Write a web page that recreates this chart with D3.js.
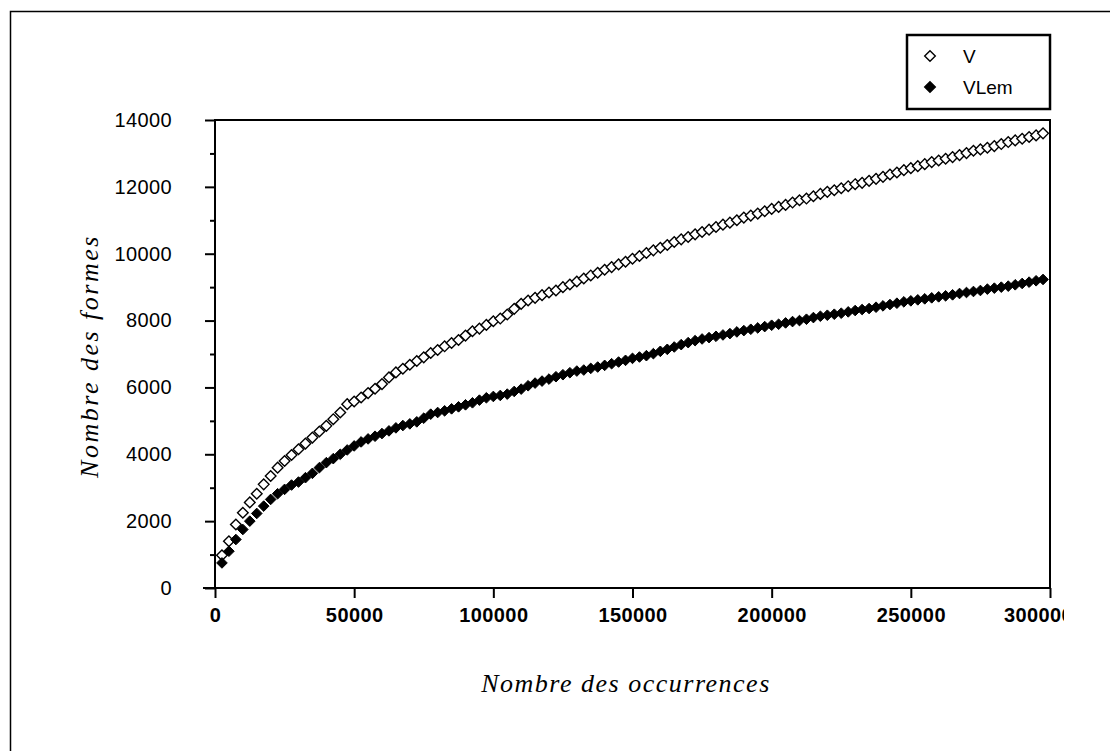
<!DOCTYPE html>
<html>
<head>
<meta charset="utf-8">
<script src="https://cdn.jsdelivr.net/npm/d3@7"></script>
<style>
  body { margin: 0; background: #fff; }
  .tick text { font-family: "Liberation Sans", sans-serif; }
</style>
</head>
<body>
<script>
var occurrences = [2500, 5000, 7500, 10000, 12500, 15000, 17500, 20000, 22500, 25000,
    27500, 30000, 32500, 35000, 37500, 40000, 42500, 45000, 47500, 50000,
    52500, 55000, 57500, 60000, 62500, 65000, 67500, 70000, 72500, 75000,
    77500, 80000, 82500, 85000, 87500, 90000, 92500, 95000, 97500, 100000,
    102500, 105000, 107500, 110000, 112500, 115000, 117500, 120000, 122500, 125000,
    127500, 130000, 132500, 135000, 137500, 140000, 142500, 145000, 147500, 150000,
    152500, 155000, 157500, 160000, 162500, 165000, 167500, 170000, 172500, 175000,
    177500, 180000, 182500, 185000, 187500, 190000, 192500, 195000, 197500, 200000,
    202500, 205000, 207500, 210000, 212500, 215000, 217500, 220000, 222500, 225000,
    227500, 230000, 232500, 235000, 237500, 240000, 242500, 245000, 247500, 250000,
    252500, 255000, 257500, 260000, 262500, 265000, 267500, 270000, 272500, 275000,
    277500, 280000, 282500, 285000, 287500, 290000, 292500, 295000, 297500];

var formesV = [980, 1400, 1900, 2250, 2560, 2820, 3100, 3350, 3600, 3800,
    3980, 4150, 4320, 4500, 4680, 4850, 5050, 5250, 5500, 5580,
    5700, 5830, 5960, 6100, 6300, 6450, 6560, 6680, 6790, 6900,
    7030, 7120, 7230, 7330, 7420, 7550, 7680, 7760, 7870, 7980,
    8060, 8180, 8350, 8500, 8600, 8680, 8760, 8840, 8900, 9000,
    9080, 9170, 9260, 9350, 9430, 9520, 9600, 9680, 9760, 9850,
    9930, 10020, 10100, 10180, 10260, 10350, 10430, 10500, 10580, 10650,
    10720, 10800, 10870, 10930, 11000, 11080, 11140, 11200, 11270, 11340,
    11400, 11460, 11530, 11600, 11650, 11720, 11790, 11850, 11900, 11960,
    12020, 12080, 12120, 12180, 12240, 12300, 12370, 12430, 12500, 12560,
    12620, 12680, 12740, 12790, 12840, 12890, 12950, 13010, 13080, 13120,
    13170, 13220, 13280, 13340, 13390, 13440, 13490, 13540, 13600];

var formesVLem = [750, 1100, 1450, 1750, 2000, 2230, 2450, 2650, 2820, 2950,
    3080, 3170, 3300, 3430, 3600, 3750, 3870, 4000, 4130, 4250,
    4370, 4460, 4540, 4620, 4700, 4790, 4860, 4910, 4970, 5080,
    5200, 5250, 5300, 5360, 5420, 5480, 5540, 5620, 5690, 5730,
    5760, 5800, 5880, 5950, 6050, 6130, 6190, 6250, 6320, 6380,
    6440, 6490, 6520, 6570, 6610, 6660, 6710, 6760, 6810, 6870,
    6910, 6950, 7010, 7080, 7140, 7210, 7280, 7340, 7400, 7450,
    7490, 7530, 7570, 7610, 7660, 7700, 7740, 7780, 7820, 7860,
    7890, 7930, 7970, 8000, 8040, 8090, 8130, 8160, 8190, 8220,
    8260, 8300, 8330, 8360, 8400, 8440, 8480, 8520, 8560, 8590,
    8620, 8650, 8680, 8710, 8740, 8770, 8810, 8840, 8870, 8900,
    8940, 8970, 9000, 9030, 9070, 9110, 9150, 9190, 9230];

var seriesNames = ["V", "VLem"];
var xTicks = [0, 50000, 100000, 150000, 200000, 250000, 300000];
var yTicks = [0, 2000, 4000, 6000, 8000, 10000, 12000, 14000];
var yMinorTicks = [1000, 3000, 5000, 7000, 9000, 11000, 13000];

var width = 1110, height = 751;
var plotLeft = 215, plotRight = 1050, plotTop = 120, plotBottom = 588;

var svg = d3.select("body").append("svg")
    .attr("width", width)
    .attr("height", height);

// outer frame (only top and left edges visible)
svg.append("path")
    .attr("d", "M10.5," + height + "V11.5H" + width)
    .attr("fill", "none")
    .attr("stroke", "#000")
    .attr("stroke-width", 1.5);

var x = d3.scaleLinear().domain([0, 300000]).range([plotLeft, plotRight]);
var y = d3.scaleLinear().domain([0, 14000]).range([plotBottom, plotTop]);

svg.append("clipPath").attr("id", "clipLabels")
    .append("rect").attr("x", 0).attr("y", 0).attr("width", 1064).attr("height", height);

// plot box
svg.append("rect")
    .attr("x", plotLeft).attr("y", plotTop)
    .attr("width", plotRight - plotLeft).attr("height", plotBottom - plotTop)
    .attr("fill", "none").attr("stroke", "#000").attr("stroke-width", 2);

var yaxis = d3.axisLeft(y).tickValues(yTicks).tickSize(10).tickPadding(33)
    .tickFormat(d3.format("d"));
var gy = svg.append("g").attr("transform", "translate(" + plotLeft + ",0)").call(yaxis);
gy.select(".domain").remove();
gy.selectAll(".tick line").attr("stroke-width", 2);
gy.selectAll(".tick text")
    .attr("font-size", 20).attr("letter-spacing", 0.4).attr("fill", "#000");

svg.append("g").attr("transform", "translate(" + plotLeft + ",0)")
    .call(d3.axisLeft(y).tickValues(yMinorTicks).tickSize(5).tickFormat(""))
    .call(g => g.select(".domain").remove())
    .selectAll(".tick line").attr("stroke-width", 2);

var xaxis = d3.axisBottom(x).tickValues(xTicks).tickSize(10).tickPadding(10)
    .tickFormat(d3.format("d"));
var gx = svg.append("g").attr("transform", "translate(0," + plotBottom + ")")
    .attr("clip-path", "url(#clipLabels)")
    .call(xaxis);
gx.select(".domain").remove();
gx.selectAll(".tick line").attr("stroke-width", 2);
gx.selectAll(".tick text")
    .attr("font-size", 20).attr("font-weight", "bold").attr("letter-spacing", 0.4)
    .attr("fill", "#000")
    .attr("dx", d => d === 300000 ? -12 : 0);

// little extension of the x axis left of the origin
svg.append("line")
    .attr("x1", plotLeft - 12).attr("x2", plotLeft)
    .attr("y1", plotBottom).attr("y2", plotBottom)
    .attr("stroke", "#000").attr("stroke-width", 2);

var diamond = d3.symbol().type(d3.symbolDiamond2).size(72);

var dataV = occurrences.map((o, i) => ({x: o, y: formesV[i]}));
var dataVLem = occurrences.map((o, i) => ({x: o, y: formesVLem[i]}));

svg.append("g").selectAll("path").data(dataV).enter()
    .append("path")
    .attr("d", diamond)
    .attr("transform", d => "translate(" + x(d.x) + "," + y(d.y) + ")")
    .attr("fill", "#fff")
    .attr("stroke", "#000")
    .attr("stroke-width", 1.4);

svg.append("g").selectAll("path").data(dataVLem).enter()
    .append("path")
    .attr("d", diamond)
    .attr("transform", d => "translate(" + x(d.x) + "," + y(d.y) + ")")
    .attr("fill", "#000")
    .attr("stroke", "#000")
    .attr("stroke-width", 1);

// axis titles
svg.append("text")
    .attr("x", 626).attr("y", 692)
    .attr("text-anchor", "middle")
    .attr("font-family", "Liberation Serif, serif")
    .attr("font-style", "italic")
    .attr("font-size", 26)
    .attr("letter-spacing", 1.5)
    .text("Nombre des occurrences");

svg.append("text")
    .attr("transform", "translate(98,356) rotate(-90)")
    .attr("text-anchor", "middle")
    .attr("font-family", "Liberation Serif, serif")
    .attr("font-style", "italic")
    .attr("font-size", 26)
    .attr("letter-spacing", 2.5)
    .text("Nombre des formes");

// legend
var legend = svg.append("g");
legend.append("rect")
    .attr("x", 907).attr("y", 35)
    .attr("width", 143).attr("height", 74)
    .attr("fill", "#fff").attr("stroke", "#000").attr("stroke-width", 2.5);

legend.selectAll("path").data(seriesNames).enter()
    .append("path")
    .attr("d", diamond)
    .attr("transform", (d, i) => "translate(930," + (56 + i * 31) + ")")
    .attr("fill", (d, i) => i === 0 ? "#fff" : "#000")
    .attr("stroke", "#000")
    .attr("stroke-width", 1.4);

legend.selectAll("text").data(seriesNames).enter()
    .append("text")
    .attr("x", 963)
    .attr("y", (d, i) => 63 + i * 31)
    .attr("font-family", "Liberation Sans, sans-serif")
    .attr("font-size", 19)
    .text(d => d);
</script>
</body>
</html>
